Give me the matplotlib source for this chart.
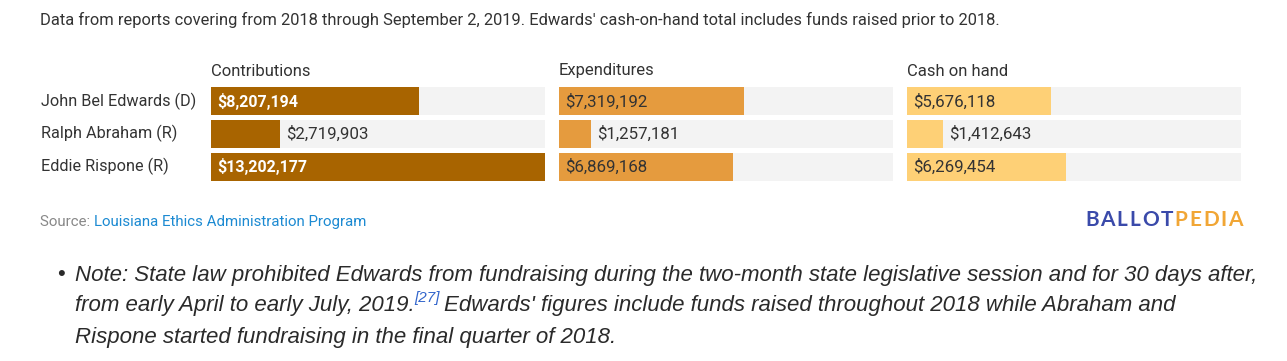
import matplotlib
matplotlib.use("Agg")
import matplotlib.pyplot as plt

# Data
candidates = ["John Bel Edwards (D)", "Ralph Abraham (R)", "Eddie Rispone (R)"]
contributions = [8207194, 2719903, 13202177]
expenditures = [7319192, 1257181, 6869168]
cash_on_hand = [5676118, 1412643, 6269454]
panel_titles = ["Contributions", "Expenditures", "Cash on hand"]
panel_colors = ["#a86400", "#e59b3e", "#fed076"]
label_colors = ["white", "#333333", "#333333"]
label_weights = ["bold", "normal", "normal"]

W, H = 1287, 361
fig = plt.figure(figsize=(W / 100, H / 100), dpi=100)
fig.patch.set_facecolor("white")
renderer = fig.canvas.get_renderer()


def px(x, y):
    # pixel coords (top-left origin) -> figure fraction
    return x / W, 1 - y / H


FONT = "Roboto"

fig.text(*px(40, 20), "Data from reports covering from 2018 through September 2, 2019. "
         "Edwards' cash-on-hand total includes funds raised prior to 2018.",
         family=FONT, fontsize=11.9, color="#333333", va="center", ha="left")

for i, name in enumerate(candidates):
    fig.text(*px(41, 101 + i * 32.7), name, family=FONT, fontsize=11.7,
             color="#333333", va="center", ha="left")

xmax = max(contributions)
pitch = 32.7
bar_h = 27.7
panel_left = [211, 559, 907]
panel_w = 334
top = 87.4
total_h = 2 * pitch + bar_h
series = [contributions, expenditures, cash_on_hand]

for k in range(3):
    fig.text(*px(panel_left[k], 71), panel_titles[k], family=FONT, fontsize=12,
             color="#333333", va="center", ha="left")
    l, b = px(panel_left[k], top + total_h)
    ax = fig.add_axes([l, b, panel_w / W, total_h / H])
    ax.set_xlim(0, xmax)
    hb = bar_h / pitch
    ax.set_ylim(2 + hb / 2, -hb / 2)
    ax.axis("off")
    ys = range(len(candidates))
    ax.barh(ys, [xmax] * 3, height=hb, color="#f3f3f3", linewidth=0)
    ax.barh(ys, series[k], height=hb, color=panel_colors[k], linewidth=0)
    for y, v in zip(ys, series[k]):
        lbl = "${:,}".format(v)
        fs = 11.5 if label_weights[k] == "bold" else 12.2
        if v / xmax > 0.3:
            ax.text(xmax * 0.018, y, lbl, va="center", ha="left", family=FONT,
                    fontsize=fs, color=label_colors[k], weight=label_weights[k])
        else:
            ax.text(v + xmax * 0.018, y, lbl, va="center", ha="left", family=FONT,
                    fontsize=12.2, color="#333333")

# source line
t = fig.text(*px(40, 222), "Source: ", family=FONT, fontsize=10.8, color="#888888",
             va="center", ha="left")
bb = t.get_window_extent(renderer)
fig.text(bb.x1 / W, 1 - 222 / H, "Louisiana Ethics Administration Program", family=FONT,
         fontsize=10.8, color="#1c8ad2", va="center", ha="left")

# logo with letter spacing
logo = [("BALLOT", "#3a4aaa"), ("PEDIA", "#f1a635")]
logo_fs = 15
chars = [(c, col) for word, col in logo for c in word]
widths = []
for c, col in chars:
    tt = fig.text(0, 0, c, family="Lato", fontsize=logo_fs, weight="bold")
    widths.append(tt.get_window_extent(renderer).width)
    tt.remove()
gap = (158 - sum(widths)) / (len(chars) - 1)
x = 1085
for (c, col), w in zip(chars, widths):
    fig.text(*px(x, 220), c, family="Lato", fontsize=logo_fs, weight="bold", color=col,
             va="center", ha="left")
    x += w + gap

# note
NOTE_FONT = "Liberation Sans"
NFS = 16
NCOL = "#2a2a2a"
fig.text(*px(57, 275), "\u2022", family=NOTE_FONT, fontsize=NFS, color=NCOL,
         va="center", ha="left")
lines_y = [275, 306, 337]
fig.text(*px(75, lines_y[0]), "Note: State law prohibited Edwards from fundraising during the "
         "two-month state legislative session and for 30 days after,",
         family=NOTE_FONT, style="italic", fontsize=NFS, color=NCOL, va="center", ha="left")
t = fig.text(*px(75, lines_y[1]), "from early April to early July, 2019.",
             family=NOTE_FONT, style="italic", fontsize=NFS, color=NCOL, va="center", ha="left")
bb = t.get_window_extent(renderer)
t = fig.text(bb.x1 / W, 1 - (lines_y[1] - 8) / H, "[27]", family=NOTE_FONT, style="italic",
             fontsize=11, color="#3366cc", va="center", ha="left")
bb = t.get_window_extent(renderer)
fig.text((bb.x1 + 4) / W, 1 - lines_y[1] / H, "Edwards' figures include funds raised "
         "throughout 2018 while Abraham and", family=NOTE_FONT, style="italic", fontsize=NFS,
         color=NCOL, va="center", ha="left")
fig.text(*px(75, lines_y[2]), "Rispone started fundraising in the final quarter of 2018.",
         family=NOTE_FONT, style="italic", fontsize=NFS, color=NCOL, va="center", ha="left")

fig.savefig("out.png", dpi=100, facecolor="white")
